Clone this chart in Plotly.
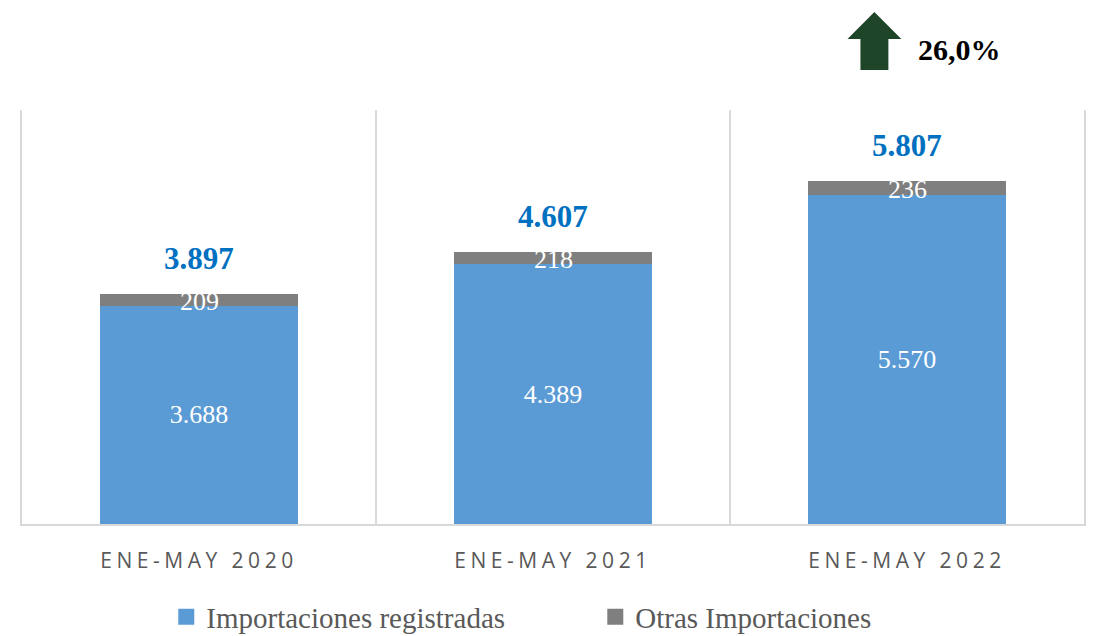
import plotly.graph_objects as go

categories = ["ENE-MAY 2020", "ENE-MAY 2021", "ENE-MAY 2022"]
registradas = [3688, 4389, 5570]
otras = [209, 218, 236]
totales = [3897, 4607, 5807]
variacion = "26,0%"

def fmt(v):
    return f"{v:,}".replace(",", ".")

x = list(range(len(categories)))
BLUE = "#5B9BD5"
GRAY = "#7F7F7F"
SERIF = "Liberation Serif, Times New Roman, serif"

fig = go.Figure()
fig.add_trace(go.Bar(x=x, y=registradas, name="Importaciones registradas",
                     marker=dict(color=BLUE, line=dict(width=0)),
                     text=[fmt(v) for v in registradas], textposition="inside",
                     insidetextanchor="middle",
                     textfont=dict(family=SERIF, size=26, color="white"),
                     hoverinfo="skip", showlegend=False))
fig.add_trace(go.Bar(x=x, y=otras, name="Otras Importaciones",
                     marker=dict(color=GRAY, line=dict(width=0)),
                     hoverinfo="skip", showlegend=False))
# legend entries with larger square swatches
for name, col in [("Importaciones registradas", BLUE), ("Otras Importaciones", GRAY)]:
    fig.add_trace(go.Scatter(x=[None], y=[None], mode="markers", name=name,
                             marker=dict(symbol="square", size=16, color=col),
                             showlegend=True, hoverinfo="skip"))

for i in x:
    fig.add_annotation(x=i, y=registradas[i] + otras[i] / 2, text=fmt(otras[i]),
                       showarrow=False, yanchor="middle", yshift=-2,
                       font=dict(family=SERIF, size=26, color="white"))
    fig.add_annotation(x=i, y=totales[i], text="<b>" + fmt(totales[i]) + "</b>",
                       showarrow=False, yanchor="bottom", yshift=16,
                       font=dict(family=SERIF, size=31, color="#0070C0"))

# growth arrow
fig.add_shape(type="path", xref="paper", yref="paper",
              path="M 0.7895 1.0966 L 0.7895 1.1715 L 0.7773 1.1715 L 0.8026 1.2367 "
                   "L 0.8280 1.1715 L 0.8158 1.1715 L 0.8158 1.0966 Z",
              fillcolor="#1F4529", line=dict(width=0))
fig.add_annotation(xref="paper", yref="paper", x=0.842, y=1.145, xanchor="left",
                   yanchor="middle", showarrow=False, text="<b>" + variacion + "</b>",
                   font=dict(family=SERIF, size=30, color="black"))

fig.update_layout(
    barmode="stack", bargap=0.44,
    width=1094, height=636,
    margin=dict(l=22, r=8, t=110, b=112),
    plot_bgcolor="white", paper_bgcolor="white",
    showlegend=True,
    legend=dict(orientation="h", xref="container", yref="container",
                x=0.152, xanchor="left", y=0.03, yanchor="middle",
                font=dict(family=SERIF, size=29, color="#595959"),
                traceorder="normal", entrywidth=384, borderwidth=0,
                bgcolor="rgba(0,0,0,0)"),
    xaxis=dict(range=[-0.5, 2.5], tickvals=x, ticktext=categories,
               tickfont=dict(family="Open Sans, sans-serif", size=21, color="#595959"),
               showgrid=False, showline=True, linecolor="#D9D9D9", linewidth=2,
               ticks="", ticklabelstandoff=17,
               minor=dict(tickvals=[-0.5, 0.5, 1.5, 2.5], showgrid=True,
                          gridcolor="#D9D9D9", gridwidth=1.5, ticks="")),
    yaxis=dict(range=[0, 7000], showgrid=False, showticklabels=False,
               zeroline=False, showline=True, mirror=True,
               linecolor="#D9D9D9", linewidth=1.5),
)

post = """
document.body.style.margin='0';
document.body.style.overflow='hidden';
document.querySelectorAll('.xtick text').forEach(function(t){t.style.letterSpacing='4.5px';});
"""
fig.write_html("out.html", post_script=post, config={"displayModeBar": False})
